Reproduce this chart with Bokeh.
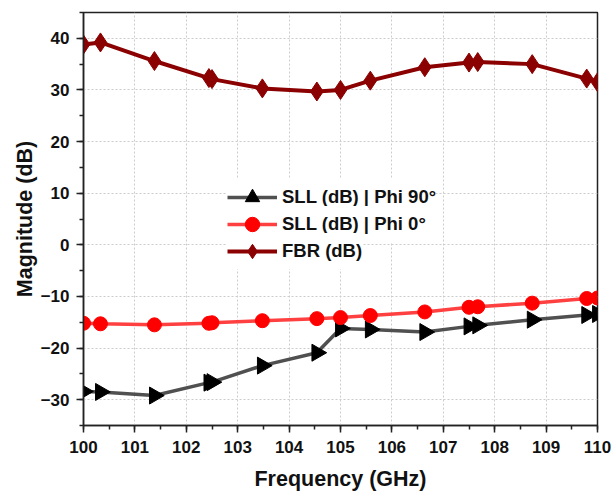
import numpy as np
from bokeh.plotting import figure
from bokeh.models import Range1d, FixedTicker, Legend, LegendItem
from bokeh.embed import file_html
from bokeh.resources import INLINE

freq = [100.0, 100.33, 101.38, 102.44, 102.5, 103.48, 104.54, 105.0, 105.58,
        106.64, 107.5, 107.67, 108.73, 109.79, 110.0]
sll_phi90 = [-28.4, -28.5, -29.2, -26.7, -26.6, -23.4, -20.9, -16.2, -16.4,
             -16.9, -15.8, -15.6, -14.5, -13.6, -13.4]
sll_phi0 = [-15.2, -15.3, -15.5, -15.2, -15.1, -14.7, -14.3, -14.1, -13.7,
            -13.0, -12.1, -12.0, -11.3, -10.4, -10.3]
fbr = [38.8, 39.2, 35.6, 32.3, 32.1, 30.3, 29.7, 30.0, 31.8,
       34.4, 35.3, 35.4, 35.0, 32.2, 31.5]
labels = ["SLL (dB) | Phi 90°", "SLL (dB) | Phi 0°", "FBR (dB)"]

x_ticks = list(range(100, 111))
y_ticks = [-30, -20, -10, 0, 10, 20, 30, 40]

FONT = "Liberation Sans"

p = figure(width=611, height=494, output_backend="svg", toolbar_location=None,
           x_range=Range1d(100, 110), y_range=Range1d(-35, 45),
           min_border_left=83, min_border_right=14, min_border_top=12,
           min_border_bottom=69)
p.outline_line_color = "#222222"
p.outline_line_width = 1.5
p.background_fill_color = "white"
p.border_fill_color = "white"

for ax in (p.xaxis[0], p.yaxis[0]):
    ax.axis_line_color = "#222222"
    ax.axis_line_width = 1.5
    ax.major_tick_line_color = "#222222"
    ax.minor_tick_line_color = "#222222"
    ax.major_tick_line_width = 1.5
    ax.minor_tick_line_width = 1.5
    ax.major_tick_out = 7
    ax.major_tick_in = 0
    ax.minor_tick_out = 4
    ax.minor_tick_in = 0
    ax.major_label_text_font = FONT
    ax.major_label_text_font_style = "bold"
    ax.major_label_text_font_size = "17px"
    ax.major_label_text_color = "#111111"
    ax.axis_label_text_font = FONT
    ax.axis_label_text_font_style = "bold"
    ax.axis_label_text_font_size = "21.5px"
    ax.axis_label_text_color = "#111111"

p.xaxis[0].ticker = FixedTicker(ticks=x_ticks, minor_ticks=list(np.arange(100, 110.01, 0.5)))
p.yaxis[0].ticker = FixedTicker(ticks=y_ticks, minor_ticks=list(range(-35, 46, 5)))
p.xaxis[0].axis_label = "Frequency (GHz)"
p.yaxis[0].axis_label = "Magnitude (dB)"
p.xaxis[0].major_label_standoff = 8
p.yaxis[0].major_label_standoff = 7
p.xaxis[0].axis_label_standoff = 11
p.yaxis[0].axis_label_standoff = 1

p.xgrid.grid_line_color = "#cccccc"
p.ygrid.grid_line_color = "#cccccc"
p.xgrid.grid_line_dash = "2 2"
p.ygrid.grid_line_dash = "2 2"
p.xgrid.grid_line_width = 1
p.ygrid.grid_line_width = 1

l1 = p.line(freq, sll_phi90, line_color="#505050", line_width=3.5)
m1 = p.scatter(freq, sll_phi90, marker="triangle", angle=-np.pi / 2, size=17,
               fill_color="black", line_color="black")
l2 = p.line(freq, sll_phi0, line_color="#ff4040", line_width=3.5)
m2 = p.scatter(freq, sll_phi0, marker="circle", size=14,
               fill_color="#ff0000", line_color="#ff0000")
l3 = p.line(freq, fbr, line_color="#8b0000", line_width=4)
m3 = p.scatter(freq, fbr, marker="diamond", size=19,
               fill_color="#8b0000", line_color="#8b0000")

# one single-item legend per row so that the legend symbols can be larger
row_h = 36
row_pitch = 27
first_bottom = 210
for i, (lab, rends) in enumerate(zip(labels, [[l1, m1], [l2, m2], [l3, m3]])):
    lg = Legend(items=[LegendItem(label=lab, renderers=rends)],
                location=(144, first_bottom - i * row_pitch))
    lg.label_text_font = FONT
    lg.label_text_font_style = "bold"
    lg.label_text_font_size = "18.5px"
    lg.label_text_color = "#111111"
    lg.glyph_width = 50
    lg.glyph_height = row_h
    lg.label_height = row_h
    lg.label_standoff = 5
    lg.spacing = 0
    lg.padding = 0
    lg.margin = 0
    lg.border_line_color = None
    lg.background_fill_color = "white"
    lg.background_fill_alpha = 1.0
    p.add_layout(lg)

open("out.html", "w").write(file_html(p, INLINE))
